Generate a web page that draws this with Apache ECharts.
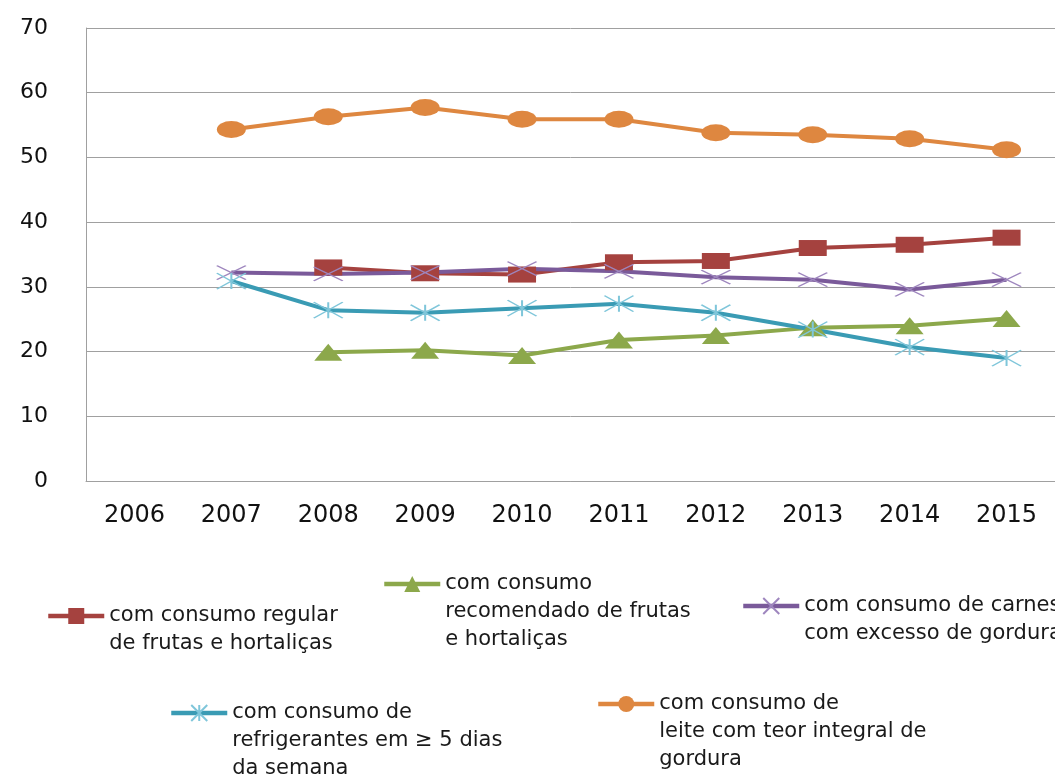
<!DOCTYPE html>
<html>
<head>
<meta charset="utf-8">
<script src="https://cdn.jsdelivr.net/npm/echarts@6/dist/echarts.min.js"></script>
<style>
  html, body { margin: 0; padding: 0; background: #fff; }
  #chart { width: 1055px; height: 775px; }
</style>
</head>
<body>
<div id="chart"></div>
<script>
// Years on the category axis
const years = ['2006', '2007', '2008', '2009', '2010', '2011', '2012', '2013', '2014', '2015'];

// Percentages per year (null where no survey value)
const frutasRegular = [null, null, 33.0, 32.1, 31.9, 33.8, 34.0, 36.0, 36.5, 37.6];
const frutasRecomendado = [null, null, 19.9, 20.2, 19.4, 21.8, 22.5, 23.7, 24.0, 25.1];
const carnesGordura = [null, 32.2, 32.0, 32.2, 32.8, 32.4, 31.5, 31.1, 29.6, 31.1];
const refrigerantes = [null, 30.9, 26.4, 26.0, 26.7, 27.4, 26.0, 23.4, 20.7, 19.0];
const leiteIntegral = [null, 54.3, 56.3, 57.7, 55.9, 55.9, 53.8, 53.5, 52.9, 51.2];

// Series names as shown in the legend
const names = [
  'com consumo regular\nde frutas e hortaliças',
  'com consumo\nrecomendado de frutas\ne hortaliças',
  'com consumo de carnes\ncom excesso de gordura',
  'com consumo de\nrefrigerantes em ≥ 5 dias\nda semana',
  'com consumo de\nleite com teor integral de\ngordura'
];

const FONT = 'DejaVu Sans';
const LH = 28;

// One legend block per series; the icon sits beside the first text line,
// so blank lines are prepended to keep the vertically centred block aligned.
function legendFor(name, left, iconY) {
  const n = name.split('\n').length;
  return {
    data: [name],
    left: left,
    top: iconY - (2 * n - 1) * LH / 2,
    padding: 0,
    orient: 'horizontal',
    itemWidth: 56,
    itemHeight: 20,
    itemGap: 0,
    selectedMode: false,
    lineStyle: { width: 4.5 },
    formatter: function (label) {
      return '\n'.repeat(n - 1) + label;
    },
    textStyle: {
      fontFamily: FONT,
      fontSize: 21,
      color: '#1a1a1a',
      lineHeight: LH
    }
  };
}

function lineSeries(name, data, color, symbol, symbolSize, markerStyle) {
  return {
    name: name,
    type: 'line',
    data: data,
    connectNulls: false,
    symbol: symbol,
    symbolSize: symbolSize,
    showAllSymbol: true,
    lineStyle: { color: color, width: 4 },
    itemStyle: markerStyle || { color: color },
    emphasis: { disabled: true },
    animation: false
  };
}

const chart = echarts.init(document.getElementById('chart'), null, { renderer: 'canvas' });

chart.setOption({
  backgroundColor: '#ffffff',
  animation: false,
  grid: { left: 86, top: 28, width: 977, height: 453, containLabel: false },
  xAxis: {
    type: 'category',
    data: years,
    boundaryGap: true,
    axisLine: { show: true, lineStyle: { color: '#a0a0a0', width: 1 } },
    axisTick: { show: false },
    axisLabel: {
      fontFamily: FONT,
      fontSize: 24,
      color: '#111',
      margin: 23,
      interval: 0
    },
    splitLine: { show: false }
  },
  yAxis: {
    type: 'value',
    min: 0,
    max: 70,
    interval: 10,
    axisLine: { show: true, lineStyle: { color: '#a0a0a0', width: 1 } },
    axisTick: { show: false },
    axisLabel: {
      fontFamily: FONT,
      fontSize: 22,
      color: '#111',
      margin: 38
    },
    splitLine: { show: true, lineStyle: { color: '#a0a0a0', width: 1 } }
  },
  legend: [
    legendFor(names[0], 46, 616),
    legendFor(names[1], 382, 584),
    legendFor(names[2], 741, 606),
    legendFor(names[3], 169, 713),
    legendFor(names[4], 596, 704)
  ],
  series: [
    lineSeries(names[0], frutasRegular, '#A5423F', 'rect', [28, 16]),
    lineSeries(names[1], frutasRecomendado, '#8CA84B', 'triangle', [28, 17]),
    lineSeries(names[2], carnesGordura, '#7A5A9A', 'path://M0,0L10,10M10,0L0,10', [29, 14],
      { color: 'rgba(0,0,0,0)', borderColor: '#9E86BE', borderWidth: 1.5 }),
    lineSeries(names[3], refrigerantes, '#3A9BB4', 'path://M0,0L10,10M10,0L0,10M5,0L5,10', [29, 16],
      { color: 'rgba(0,0,0,0)', borderColor: '#7FC6DA', borderWidth: 1.5 }),
    lineSeries(names[4], leiteIntegral, '#DE8740', 'circle', [29, 17])
  ]
});
</script>
</body>
</html>
